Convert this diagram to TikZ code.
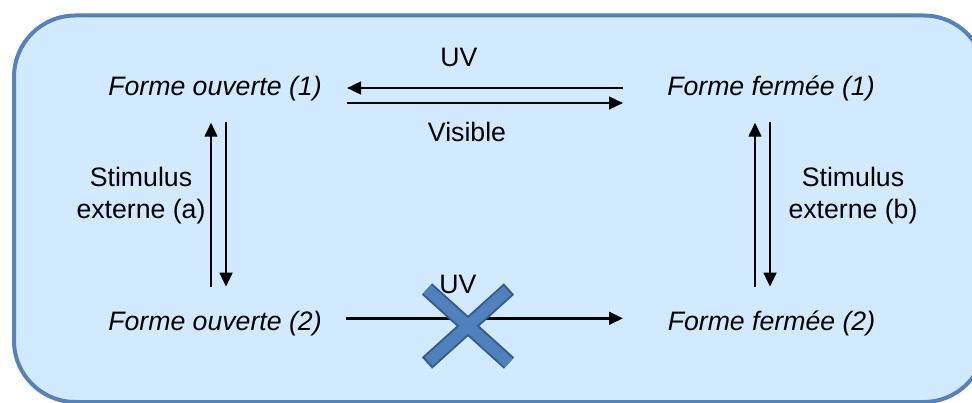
\documentclass[tikz,border=0pt]{standalone}
\usepackage{fontspec}
\setmainfont{Liberation Sans}
\usetikzlibrary{arrows.meta,calc}
\definecolor{boxline}{RGB}{84,130,190}
\definecolor{boxfill}{RGB}{209,234,253}
\definecolor{xfill}{RGB}{79,129,189}
\definecolor{xline}{RGB}{56,93,138}
\begin{document}
\begin{tikzpicture}[x=0.75pt,y=-0.75pt,
  every node/.style={font=\fontsize{20}{24}\selectfont, inner sep=0pt},
  form/.style={anchor=base, font=\fontsize{20}{24}\selectfont\itshape},
  lbl/.style={anchor=base},
  stim/.style={align=center},
  arr/.style={-{Triangle[length=10.5pt,width=9.5pt]}, line width=1.9pt, black}
]
\useasboundingbox (0,0) rectangle (972,403);
\clip (0,0) rectangle (972,403);
\draw[line width=3pt, draw=boxline, fill=boxfill, rounded corners=46pt] (14,15.5) rectangle (985,402);

\node[form] (fo1) at (215,95.7) {Forme ouverte (1)};
\node[form] (ff1) at (771,95.7) {Forme fermée (1)};
\node[form] (fo2) at (215,330.7) {Forme ouverte (2)};
\node[form] (ff2) at (771.5,330.7) {Forme fermée (2)};

\node[lbl] (uvtop) at (459,66.7) {UV};
\node[lbl] (vis) at (467,141.7) {Visible};
\node[stim] (sa) at (141,196) {Stimulus\\externe (a)};
\node[stim] (sb) at (853,196) {Stimulus\\externe (b)};

% top horizontal arrows
\draw[arr] ($(ff1.base)+(-148,-7.7)$) -- ($(fo1.base)+(132,-7.7)$);
\draw[arr] ($(fo1.base)+(132,7.3)$) -- ($(ff1.base)+(-148,7.3)$);
% left vertical arrows
\draw[arr] ($(fo2.base)+(-4,-44)$) -- ($(fo1.base)+(-4,27)$);
\draw[arr] ($(fo1.base)+(11,26)$) -- ($(fo2.base)+(11,-44)$);
% right vertical arrows
\draw[arr] ($(ff2.base)+(-16.5,-44)$) -- ($(ff1.base)+(-16,27)$);
\draw[arr] ($(ff1.base)+(-1,26)$) -- ($(ff2.base)+(-1.5,-44)$);
% bottom arrow
\draw[arr] ($(fo2.base)+(131,-12.4)$) -- ($(ff2.base)+(-148.5,-12.4)$);

% blue cross
\coordinate (xa) at (427,289);
\coordinate (xb) at (509,363);
\coordinate (xc) at (509,289);
\coordinate (xd) at (427,363);
\draw[line width=11.5pt, xline, line cap=butt] (xa) -- (xb) (xc) -- (xd);
\draw[line width=8.5pt, xfill, line cap=butt, shorten <=1.6pt, shorten >=1.6pt] (xa) -- (xb) (xc) -- (xd);

\node[lbl] (uvbot) at (458,293) {UV};
\end{tikzpicture}
\end{document}
